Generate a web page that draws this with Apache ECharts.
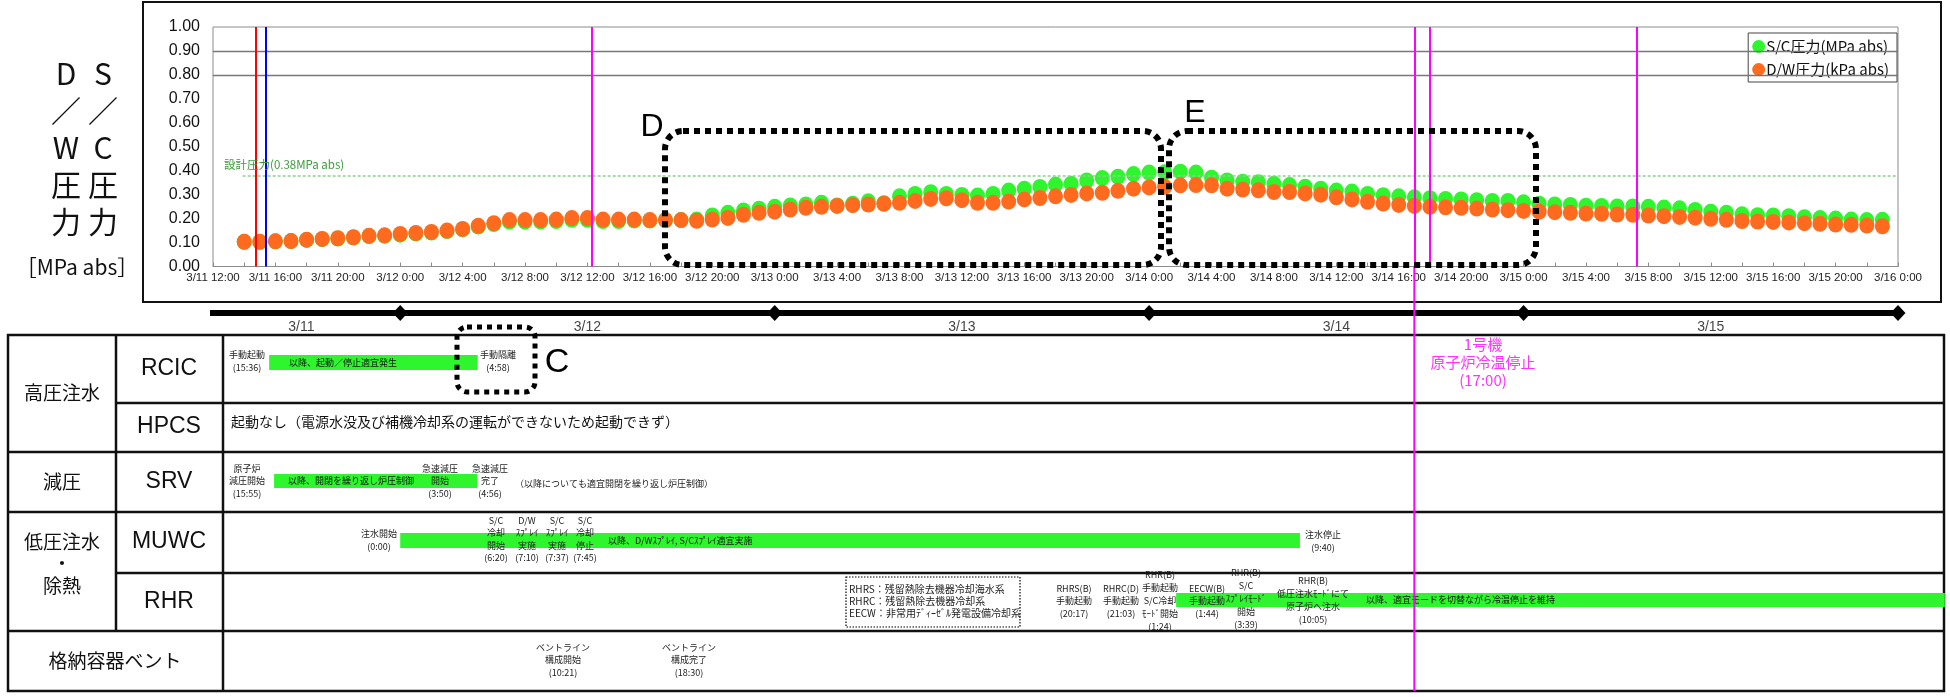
<!DOCTYPE html>
<html><head><meta charset="utf-8">
<script src="https://cdn.jsdelivr.net/npm/echarts@6/dist/echarts.min.js"></script>
<style>html,body{margin:0;padding:0;background:#fff}#c{width:1950px;height:697px}</style>
</head><body><div id="c"></div>
<script>
// ---------------- DATA ----------------
const firstSample = '3/11 14:00';            // hourly samples start here
const dwPressure = [ // D/W pressure (plotted in MPa abs)
 0.103,0.103,0.105,0.106,0.112,0.115,0.118,0.122,0.128,0.130,0.136,0.140,
 0.144,0.150,0.157,0.170,0.181,0.194,0.194,0.194,0.196,0.202,0.202,0.196,
 0.196,0.196,0.194,0.194,0.194,0.191,0.196,0.203,0.216,0.224,0.229,0.238,
 0.245,0.249,0.253,0.256,0.259,0.262,0.266,0.274,0.282,0.285,0.277,0.266,
 0.266,0.271,0.280,0.286,0.293,0.299,0.305,0.308,0.316,0.325,0.330,0.333,
 0.339,0.340,0.339,0.325,0.321,0.318,0.311,0.311,0.305,0.300,0.289,0.280,
 0.270,0.263,0.257,0.253,0.249,0.247,0.245,0.242,0.238,0.235,0.232,0.229,
 0.227,0.224,0.221,0.220,0.217,0.216,0.213,0.210,0.207,0.204,0.199,0.195,
 0.190,0.188,0.186,0.184,0.181,0.178,0.175,0.174,0.171,0.168];
const scPressure = [ // S/C pressure (MPa abs)
 0.103,0.103,0.105,0.106,0.111,0.114,0.117,0.121,0.127,0.128,0.133,0.138,
 0.142,0.148,0.155,0.167,0.177,0.187,0.187,0.188,0.190,0.195,0.195,0.190,
 0.190,0.192,0.192,0.193,0.194,0.196,0.213,0.224,0.234,0.241,0.249,0.255,
 0.259,0.266,0.255,0.262,0.272,0.264,0.293,0.303,0.310,0.303,0.299,0.296,
 0.303,0.317,0.325,0.332,0.342,0.346,0.359,0.369,0.375,0.386,0.392,0.394,
 0.396,0.392,0.371,0.359,0.354,0.352,0.345,0.340,0.333,0.325,0.317,0.313,
 0.303,0.298,0.293,0.289,0.285,0.282,0.280,0.277,0.274,0.274,0.268,0.262,
 0.259,0.257,0.254,0.253,0.251,0.251,0.249,0.246,0.243,0.236,0.229,0.224,
 0.218,0.214,0.213,0.210,0.206,0.202,0.200,0.196,0.194,0.195];
const seriesNames = ['S/C圧力(MPa abs)','D/W圧力(kPa abs)'];
const tickLabels = ['3/11 12:00','3/11 16:00','3/11 20:00','3/12 0:00','3/12 4:00','3/12 8:00','3/12 12:00',
 '3/12 16:00','3/12 20:00','3/13 0:00','3/13 4:00','3/13 8:00','3/13 12:00','3/13 16:00','3/13 20:00',
 '3/14 0:00','3/14 4:00','3/14 8:00','3/14 12:00','3/14 16:00','3/14 20:00','3/15 0:00','3/15 4:00',
 '3/15 8:00','3/15 12:00','3/15 16:00','3/15 20:00','3/16 0:00'];
const designPressure = 0.38;
const designLabel = '設計圧力(0.38MPa abs)';
const eventTimes = ['3/11 14:46','3/11 15:23','3/12 12:15','3/14 17:00','3/14 18:00','3/15 7:15'];
const eventColors = ['#ff0000','#0000ff','#ff00ff','#ff00ff','#ff00ff','#ff00ff'];
const coldShutdownTime = '3/14 17:00';
const dayBoundaries = ['3/12 0:00','3/13 0:00','3/14 0:00','3/15 0:00','3/16 0:00'];
const timelineStart = '3/11 11:20';
const dayLabels = ['3/11','3/12','3/13','3/14','3/15'];
const opRows = ['RCIC','SRV','MUWC','RHR'];
const opFrom = ['3/11 15:36','3/11 15:55','3/12 0:00','3/14 1:44'];
const opTo   = ['3/12 4:58','3/12 4:56','3/14 9:40','3/16 3:00'];
const opText = ['以降、起動／停止適宜発生','以降、開閉を繰り返し炉圧制御','以降、D/Wｽﾌﾟﾚｲ, S/Cｽﾌﾟﾚｲ適宜実施','以降、適宜モードを切替ながら冷温停止を維持'];

// ---------------- helpers / layout ----------------
function hr(s){const [d,t]=s.split(' ');const da=Number(d.split('/')[1]);const [h,m]=t.split(':').map(Number);return (da-11)*24+h+m/60-12;}
const h0 = hr(firstSample);
const PL=213, PT=27, PW=1685, PH=239.5;
const rowBand = {RCIC:[355,370], SRV:[474,488], MUWC:[533,548], RHR:[593,607]};
const barTextLeft = {RCIC:289, SRV:288, MUWC:608, RHR:1366};
const JP = '"Noto Sans CJK JP", sans-serif';
const LAT = '"Liberation Sans", Arial, sans-serif';

const chart = echarts.init(document.getElementById('c'), null, {renderer:'canvas'});
const G = [];
function T(x,y,text,o){o=o||{};G.push({type:'text',x:x,y:y,z:o.z||100,style:{text:text,fill:o.fill||'#222',
  font:(o.weight||'normal')+' '+(o.size||9)+'px '+(o.family||JP),align:o.align||'center',textAlign:o.align||'center',
  verticalAlign:'middle',textVerticalAlign:'middle',lineHeight:o.lh||12.4}});}
function L(x1,y1,x2,y2,w,c,z){G.push({type:'line',z:z||1,shape:{x1,y1,x2,y2},style:{stroke:c||'#111',lineWidth:w||2}});}
function R(x,y,w,h,o){G.push({type:'rect',z:o.z||90,shape:{x,y,width:w,height:h,r:o.r||0},style:{fill:'none',stroke:o.stroke||'#000',lineWidth:o.lw||6,lineDash:o.dash||[6,5]}});}

// outer frame of the chart part
G.push({type:'rect',z:1,shape:{x:143,y:2,width:1798,height:300},style:{fill:'none',stroke:'#111',lineWidth:2}});
// vertical y-axis title
['D','／','W','圧','力'].forEach((c,i)=>T(66,74+37*i,c,{size:30,family:JP,fill:'#111'}));
['S','／','C','圧','力'].forEach((c,i)=>T(103,74+37*i,c,{size:30,family:JP,fill:'#111'}));
T(77,267,'［MPa abs］',{size:21,fill:'#111'});
T(224,165,designLabel,{size:11.5,fill:'#3c9c3c',align:'left'});
// dotted highlight boxes
R(665,131,496,134,{r:18});
R(1169,131,367,134,{r:18});
T(652,127,'D',{size:32,family:LAT,fill:'#000'});
T(1195,113,'E',{size:32,family:LAT,fill:'#000'});
R(457,327,78,65,{r:10,lw:5,dash:[5,5]});
T(557,363,'C',{size:34,family:LAT,fill:'#000'});

// table grid lines
G.push({type:'rect',z:1,shape:{x:8,y:335,width:1936,height:356},style:{fill:'none',stroke:'#111',lineWidth:2.5}});
L(116,335,116,631,2.5); L(223,335,223,691,2.5);
L(116,403,1944,403,2.5); L(8,452,1944,452,2.5); L(8,512,1944,512,2.5); L(116,573,1944,573,2.5); L(8,631,1944,631,2.5);
T(62,393,'高圧注水',{size:19,fill:'#111'});
T(62,482,'減圧',{size:19,fill:'#111'});
T(62,564,'低圧注水\n・\n除熱',{size:19,fill:'#111',lh:22});
T(115,661,'格納容器ベント',{size:19,fill:'#111'});
T(169,369,'RCIC',{size:23,family:LAT,fill:'#111'});
T(169,427,'HPCS',{size:23,family:LAT,fill:'#111'});
T(169,482,'SRV',{size:23,family:LAT,fill:'#111'});
T(169,542,'MUWC',{size:23,family:LAT,fill:'#111'});
T(169,602,'RHR',{size:23,family:LAT,fill:'#111'});
// annotations
T(247,361,'手動起動\n(15:36)');
T(498,361,'手動隔離\n(4:58)');
T(231,422,'起動なし（電源水没及び補機冷却系の運転ができないため起動できず）',{size:14,align:'left',fill:'#111'});
T(247,481,'原子炉\n減圧開始\n(15:55)');
T(440,481,'急速減圧\n開始\n(3:50)');
T(490,481,'急速減圧\n完了\n(4:56)');
T(515,484,'（以降についても適宜開閉を繰り返し炉圧制御）',{align:'left'});
T(379,540,'注水開始\n(0:00)');
T(496,539,'S/C\n冷却\n開始\n(6:20)');
T(527,539,'D/W\nｽﾌﾟﾚｲ\n実施\n(7:10)');
T(557,539,'S/C\nｽﾌﾟﾚｲ\n実施\n(7:37)');
T(585,539,'S/C\n冷却\n停止\n(7:45)');
T(1323,541,'注水停止\n(9:40)');
R(846,577,174,50,{lw:1.2,dash:[1.5,1.5],z:95});
T(849,601,'RHRS：残留熱除去機器冷却海水系\nRHRC：残留熱除去機器冷却系\nEECW：非常用ﾃﾞｨｰｾﾞﾙ発電設備冷却系',{size:10,align:'left',lh:12});
T(1074,601,'RHRS(B)\n手動起動\n(20:17)');
T(1121,601,'RHRC(D)\n手動起動\n(21:03)');
T(1160,601,'RHR(B)\n手動起動\nS/C冷却\nﾓｰﾄﾞ開始\n(1:24)',{lh:13});
T(1207,601,'EECW(B)\n手動起動\n(1:44)');
T(1246,599,'RHR(B)\nS/C\nｽﾌﾟﾚｲﾓｰﾄﾞ\n開始\n(3:39)',{lh:13});
T(1313,600,'RHR(B)\n低圧注水ﾓｰﾄﾞにて\n原子炉へ注水\n(10:05)',{lh:13});
T(563,660,'ベントライン\n構成開始\n(10:21)');
T(689,660,'ベントライン\n構成完了\n(18:30)');
T(1483,362,'1号機\n原子炉冷温停止\n(17:00)',{size:15,fill:'#ff33ff',lh:18});

function renderBar(params, api){
  const row = opRows[params.dataIndex];
  const band = rowBand[row];
  const p0 = api.coord([api.value(0), band[0]]);
  const p1 = api.coord([api.value(1), band[1]]);
  return {type:'group',children:[
    {type:'rect',shape:{x:p0[0],y:p0[1],width:p1[0]-p0[0],height:p1[1]-p0[1]},style:{fill:'#2ef52e'}},
    {type:'text',style:{text:opText[params.dataIndex],x:barTextLeft[row],y:(p0[1]+p1[1])/2,fill:'#111',
      font:'9px '+JP,verticalAlign:'middle',align:'left'}}
  ]};
}

const dayHours = dayBoundaries.map(hr);
const dayLabelHours = [ (hr(timelineStart)+dayHours[0])/2, dayHours[0]+12, dayHours[1]+12, dayHours[2]+12, dayHours[3]+12 ];

const option = {
  animation:false,
  backgroundColor:'#fff',
  grid:[
    {left:PL, top:PT, width:PW, height:PH, show:true, borderColor:'#8c8c8c', borderWidth:1, backgroundColor:'transparent'},
    {left:PL, top:266, width:PW, height:425, show:false}
  ],
  xAxis:[
    {type:'value', gridIndex:0, min:0, max:108, interval:2,
     axisLine:{show:true,lineStyle:{color:'#8c8c8c'}},
     axisTick:{show:true,inside:true,length:4,lineStyle:{color:'#8c8c8c'}},
     splitLine:{show:false},
     axisLabel:{margin:5,fontSize:11.5,fontFamily:LAT,color:'#222',
       formatter:v=> (v%4===0 ? tickLabels[v/4] : '')}},
    {type:'value', gridIndex:1, min:0, max:108, show:false}
  ],
  yAxis:[
    {type:'value', gridIndex:0, min:0, max:1, interval:0.1,
     axisLine:{show:false}, axisTick:{show:false}, splitLine:{show:false},
     axisLabel:{margin:13,fontSize:16,fontFamily:LAT,color:'#111',formatter:v=>v.toFixed(2)}},
    {type:'value', gridIndex:1, min:266, max:691, inverse:true, show:false}
  ],
  legend:{
    data:seriesNames, orient:'vertical', right:1950-1897, top:33,
    icon:'circle', itemWidth:13, itemHeight:13, itemGap:8,
    borderColor:'#444', borderWidth:1, padding:[6,8,5,4], backgroundColor:'#fff',
    textStyle:{fontSize:15,fontFamily:JP,color:'#111',padding:[0,0,0,-4]}
  },
  graphic:{elements:G},
  series:[
    {type:'line', xAxisIndex:0, yAxisIndex:0, data:[], z:1, silent:true,
     markLine:{silent:true, symbol:'none', label:{show:false}, animation:false,
       data:[
         [{coord:[h0-0.1,designPressure]},{coord:[108,designPressure]}],
         [{coord:[0,0.8]},{coord:[108,0.8]}],
         [{coord:[0,0.9]},{coord:[108,0.9]}]
       ].map((d,i)=>{d[0].lineStyle = i===0 ? {color:'#8fd08f',type:[3,2],width:1.5} : {color:'#777',type:'solid',width:1.3}; return d;})
     }},
    {name:seriesNames[0], type:'scatter', xAxisIndex:0, yAxisIndex:0, z:3,
     symbolSize:[15,16], itemStyle:{color:'#2ef52e',opacity:1},
     data:scPressure.map((v,i)=>[h0+i,v])},
    {name:seriesNames[1], type:'scatter', xAxisIndex:0, yAxisIndex:0, z:4,
     symbolSize:[15,16], itemStyle:{color:'#ff6a1e',opacity:1},
     data:dwPressure.map((v,i)=>[h0+i,v])},
    {type:'line', xAxisIndex:0, yAxisIndex:0, data:[], z:6, silent:true,
     markLine:{silent:true, symbol:'none', label:{show:false}, animation:false,
       data:eventTimes.map((t,i)=>({xAxis:hr(t), lineStyle:{color:eventColors[i],width:2,type:'solid'}}))}},
    {type:'line', xAxisIndex:1, yAxisIndex:1, z:6, symbol:'none', silent:true,
     lineStyle:{color:'#ff00ff',width:2}, data:[[hr(coldShutdownTime),266],[hr(coldShutdownTime),691]]},
    {type:'line', xAxisIndex:1, yAxisIndex:1, z:3, symbol:'none', silent:true,
     lineStyle:{color:'#000',width:6}, data:[[hr(timelineStart),313],[dayHours[4],313]]},
    {type:'scatter', xAxisIndex:1, yAxisIndex:1, z:4, symbol:'diamond', symbolSize:[15,16], silent:true,
     itemStyle:{color:'#000',opacity:1}, data:dayHours.map(h=>[h,313])},
    {type:'scatter', xAxisIndex:1, yAxisIndex:1, z:4, symbolSize:0, silent:true,
     label:{show:true,position:'inside',fontSize:14,fontFamily:LAT,color:'#111',formatter:p=>dayLabels[p.dataIndex]},
     data:dayLabelHours.map(h=>[h,327])},
    {type:'custom', xAxisIndex:1, yAxisIndex:1, z:3, clip:false, silent:true,
     renderItem:renderBar, encode:{x:[0,1]},
     data:opRows.map((r,i)=>[hr(opFrom[i]),hr(opTo[i])])}
  ]
};
chart.setOption(option);
</script>
</body></html>
